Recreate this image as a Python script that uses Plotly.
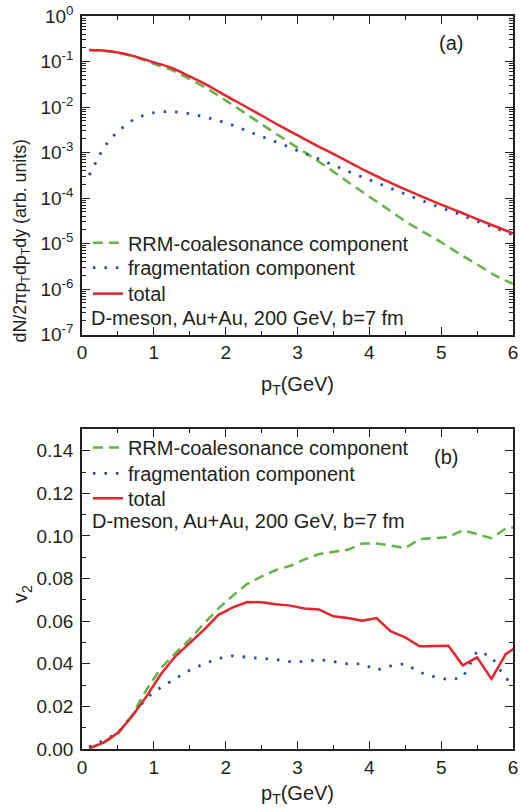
import plotly.graph_objects as go

# ---------------- Panel (a): spectra ----------------
pt_rrm_a = [0.1, 0.25, 0.5, 0.75, 1.0, 1.25, 1.5, 1.75, 2.0, 2.25, 2.5, 2.75, 3.0,
            3.25, 3.5, 3.75, 4.0, 4.25, 4.5, 4.75, 5.0, 5.25, 5.5, 5.75, 6.0]
dn_rrm = [0.18, 0.175, 0.156, 0.124, 0.089, 0.065, 0.041, 0.025, 0.0140, 0.0077,
          0.0042, 0.0023, 0.00128, 7.1e-4, 3.8e-4, 2.0e-4, 1.07e-4, 5.8e-5, 3.1e-5,
          1.8e-5, 1.07e-5, 6.0e-6, 3.5e-6, 2.0e-6, 1.3e-6]

pt_frag_a = [0.1, 0.2, 0.3, 0.4, 0.5, 0.6, 0.75, 1.0, 1.25, 1.5, 1.75, 2.0, 2.25, 2.5,
             2.75, 3.0, 3.25, 3.5, 3.75, 4.0, 4.25, 4.5, 4.75, 5.0, 5.25, 5.5, 5.75, 6.0]
dn_frag = [3.2e-4, 6.4e-4, 1.25e-3, 2.0e-3, 2.9e-3, 3.9e-3, 5.6e-3, 7.5e-3, 7.9e-3,
           7.1e-3, 5.8e-3, 4.5e-3, 3.2e-3, 2.25e-3, 1.6e-3, 1.1e-3, 7.8e-4, 5.3e-4,
           3.6e-4, 2.5e-4, 1.75e-4, 1.22e-4, 8.6e-5, 6.1e-5, 4.4e-5, 3.1e-5, 2.2e-5, 1.55e-5]

pt_tot_a = pt_rrm_a
dn_tot = [0.18, 0.176, 0.158, 0.128, 0.096, 0.072, 0.047, 0.030, 0.0178, 0.0108,
          0.0065, 0.0039, 0.0024, 0.00148, 9.3e-4, 5.8e-4, 3.6e-4, 2.35e-4, 1.55e-4,
          1.05e-4, 7.2e-5, 5.0e-5, 3.45e-5, 2.4e-5, 1.68e-5]

log_tickvals = [1e-7, 1e-6, 1e-5, 1e-4, 1e-3, 1e-2, 1e-1, 1e0]
log_ticktext = ["10<sup>-7</sup>", "10<sup>-6</sup>", "10<sup>-5</sup>", "10<sup>-4</sup>",
                "10<sup>-3</sup>", "10<sup>-2</sup>", "10<sup>-1</sup>", "10<sup>0</sup>"]

# ---------------- Panel (b): v2 ----------------
pt_b = [0.1, 0.3, 0.5, 0.7, 0.9, 1.1, 1.3, 1.5, 1.7, 1.9, 2.1, 2.3, 2.5, 2.7, 2.9, 3.1,
        3.3, 3.5, 3.7, 3.9, 4.1, 4.3, 4.5, 4.7, 4.9, 5.1, 5.3, 5.5, 5.7, 5.9, 6.1]
v2_rrm = [0.0005, 0.003, 0.007, 0.016, 0.028, 0.038, 0.045, 0.0515, 0.059, 0.066, 0.072,
          0.0775, 0.081, 0.084, 0.086, 0.089, 0.0915, 0.0925, 0.0935, 0.0965, 0.0965,
          0.0955, 0.0943, 0.0985, 0.099, 0.0995, 0.1027, 0.101, 0.099, 0.1035, 0.1045]
v2_frag = [0.001, 0.004, 0.0075, 0.016, 0.024, 0.029, 0.033, 0.037, 0.040, 0.0425, 0.0437,
           0.043, 0.0425, 0.042, 0.041, 0.041, 0.042, 0.041, 0.040, 0.040, 0.037, 0.039,
           0.040, 0.036, 0.034, 0.0325, 0.0335, 0.046, 0.0434, 0.033, 0.030]
v2_tot = [0.0003, 0.003, 0.0076, 0.0155, 0.0248, 0.0352, 0.0435, 0.0497, 0.056, 0.063,
          0.0665, 0.069, 0.0689, 0.068, 0.0673, 0.066, 0.0655, 0.0623, 0.0615, 0.0602,
          0.0615, 0.0552, 0.0524, 0.0482, 0.0482, 0.0485, 0.0393, 0.043, 0.0329, 0.0446, 0.049]

names = ["RRM-coalesonance component", "fragmentation component", "total"]

GREEN = "#62b446"
BLUE = "#2b4ba6"
RED = "#e8232b"
FONT = "Liberation Sans, Arial, sans-serif"
INK = "#231f20"

W, H = 521, 811
L, R, T, B = 82, 3, 15, 62


def px2x(px):
    return (px - L) / (W - L - R)


def py2y(py):
    return (H - B - py) / (H - T - B)


fig = go.Figure()

dash_green = "10px,6px"
dash_blue = "2.5px,9px"
styles = [dict(color=GREEN, width=2.5, dash=dash_green),
          dict(color=BLUE, width=2.8, dash=dash_blue),
          dict(color=RED, width=2.5)]

top_data = [(pt_rrm_a, dn_rrm), (pt_frag_a, dn_frag), (pt_tot_a, dn_tot)]
bot_data = [(pt_b, v2_rrm), (pt_b, v2_frag), (pt_b, v2_tot)]

for i, (xs, ys) in enumerate(top_data):
    fig.add_trace(go.Scatter(x=xs, y=ys, mode="lines", name=names[i],
                             line=dict(shape="spline", **styles[i]),
                             xaxis="x", yaxis="y",
                             legend="legend" if i == 0 else f"legend{i + 1}"))
for i, (xs, ys) in enumerate(bot_data):
    fig.add_trace(go.Scatter(x=xs, y=ys, mode="lines", name=names[i],
                             line=dict(**styles[i]),
                             xaxis="x2", yaxis="y2", legend=f"legend{i + 4}"))

common_axis = dict(showline=True, linecolor=INK, linewidth=1.5, mirror="allticks",
                   ticks="inside", ticklen=8, tickwidth=1.3, tickcolor=INK,
                   showgrid=False, zeroline=False, ticklabeloverflow="allow",
                   tickfont=dict(family=FONT, size=19, color=INK))

fig.update_layout(
    width=W, height=H,
    margin=dict(l=L, r=R, t=T, b=B),
    paper_bgcolor="white", plot_bgcolor="white",
    font=dict(family=FONT, size=20, color=INK),
    xaxis=dict(domain=[0, 1], anchor="y", range=[0, 6], dtick=1, tick0=0,
               minor=dict(ticks="inside", ticklen=4, dtick=0.5, tickcolor=INK),
               **common_axis),
    yaxis=dict(domain=[py2y(334), 1], anchor="x", type="log", range=[-7, 0],
               tickmode="array", tickvals=log_tickvals, ticktext=log_ticktext,
               minor=dict(ticks="inside", ticklen=4, dtick="D1", tickcolor=INK),
               ticklabelstandoff=3,
               **common_axis),
    xaxis2=dict(domain=[0, 1], anchor="y2", range=[0, 6], dtick=1, tick0=0,
                minor=dict(ticks="inside", ticklen=4, dtick=0.5, tickcolor=INK),
                **common_axis),
    yaxis2=dict(domain=[0, py2y(429)], anchor="x2", range=[0, 0.15], dtick=0.02, tick0=0,
                tickformat=".2f",
                minor=dict(ticks="inside", ticklen=4, dtick=0.01, tickcolor=INK),
                ticklabelstandoff=3,
                **common_axis),
    showlegend=True,
)

legend_rows = [242, 267, 293, 447, 473, 498]
for k, row in enumerate(legend_rows):
    key = "legend" if k == 0 else f"legend{k + 1}"
    fig.update_layout({key: dict(x=px2x(88), y=py2y(row), xanchor="left", yanchor="middle",
                                 bgcolor="rgba(0,0,0,0)",
                                 font=dict(family=FONT, size=20, color=INK),
                                 itemwidth=30)})

ann = dict(showarrow=False, xref="paper", yref="paper",
           font=dict(family=FONT, size=20, color=INK))
fig.add_annotation(text="(a)", x=px2x(455), y=py2y(42), xanchor="center", yanchor="middle", **ann)
fig.add_annotation(text="(b)", x=px2x(450), y=py2y(457), xanchor="center", yanchor="middle", **ann)
fig.add_annotation(text="D-meson, Au+Au, 200 GeV, b=7 fm", x=px2x(89), y=py2y(317),
                   xanchor="left", yanchor="middle", **ann)
fig.add_annotation(text="D-meson, Au+Au, 200 GeV, b=7 fm", x=px2x(90), y=py2y(521),
                   xanchor="left", yanchor="middle", **ann)
fig.add_annotation(text="p<sub>T</sub>(GeV)", x=px2x(300), y=py2y(385),
                   xanchor="center", yanchor="middle", **ann)
fig.add_annotation(text="p<sub>T</sub>(GeV)", x=px2x(300), y=py2y(795),
                   xanchor="center", yanchor="middle", **ann)
ann_y = dict(ann)
ann_y["font"] = dict(family=FONT, size=17.8, color=INK)
fig.add_annotation(text="dN/2πp<sub>T</sub>dp<sub>T</sub>dy (arb. units)", x=px2x(21), y=py2y(240),
                   xanchor="center", yanchor="middle", textangle=-90, **ann_y)
fig.add_annotation(text="v<sub>2</sub>", x=px2x(21), y=py2y(594),
                   xanchor="center", yanchor="middle", textangle=-90, **ann)

fig.write_html("out.html")
